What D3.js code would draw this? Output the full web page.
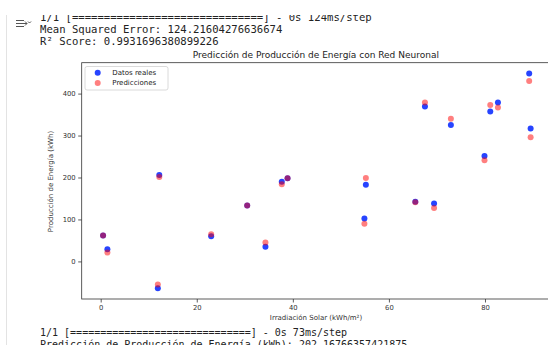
<!DOCTYPE html>
<html>
<head>
<meta charset="utf-8">
<script src="https://cdn.jsdelivr.net/npm/d3@7"></script>
<style>
  html, body { margin: 0; padding: 0; background: #fff; }
  svg { display: block; }
</style>
</head>
<body>
<script>
// data
var irradiacion = [0.5, 1.4, 12.2, 11.9, 23.0, 30.5, 34.3, 37.7, 38.9, 55.2,
                   54.9, 65.5, 69.4, 67.5, 72.9, 79.9, 81.1, 82.7, 89.2, 89.5]
var reales      = [62, 29, 206, -64, 60, 133, 35, 190, 198, 183,
                   102, 142, 138, 369, 325, 251, 357, 379, 448, 317]
var predicciones = [62, 21, 201, -55, 65, 133, 45, 184, 198, 199,
                   90, 141, 127, 379, 340, 241, 373, 367, 430, 296]
var xTicks = [0, 20, 40, 60, 80]
var yTicks = [0, 100, 200, 300, 400]

var consoleTop = [
  '1/1 [==============================] - 0s 124ms/step',
  'Mean Squared Error: 124.21604276636674',
  'R\u00b2 Score: 0.9931696380899226'
]
var consoleBottom = [
  '1/1 [==============================] - 0s 73ms/step',
  'Predicci\u00f3n de Producci\u00f3n de Energ\u00eda (kWh): 202.16766357421875'
]

var W = 548, H = 345
var mono = '"DejaVu Sans Mono", monospace'
var sans = '"DejaVu Sans", sans-serif'

var svg = d3.select('body').append('svg')
  .attr('width', W).attr('height', H)

svg.append('rect').attr('width', W).attr('height', H).attr('fill', '#fff')

// notebook output gutter
svg.append('line')
  .attr('x1', 6.5).attr('x2', 6.5).attr('y1', 15).attr('y2', H)
  .attr('stroke', '#e3e3e3')

var icon = svg.append('g').attr('transform', 'translate(15,19)')
  .attr('stroke', '#555').attr('fill', 'none').attr('stroke-width', 1)
icon.append('path').attr('d', 'M1,1.5H9M1,4.5H12M10,2.5L12,4.5L10,6.5M1,7.5H9')
icon.append('path').attr('d', 'M13,2.5L14.5,4L16,2.5')

// console text, first line is half hidden by the scroll edge
svg.append('clipPath').attr('id', 'topclip')
  .append('rect').attr('x', 0).attr('y', 15).attr('width', W).attr('height', H)

svg.append('g').attr('clip-path', 'url(#topclip)')
  .selectAll('text').data(consoleTop).join('text')
  .attr('x', 40).attr('y', (d, i) => 20.5 + i * 12)
  .attr('font-family', mono).attr('font-size', 10.6)
  .attr('fill', '#222')
  .text(d => d)

svg.append('g')
  .selectAll('text').data(consoleBottom).join('text')
  .attr('x', 40).attr('y', (d, i) => 336 + i * 11.5)
  .attr('font-family', mono).attr('font-size', 10)
  .attr('fill', '#222')
  .text(d => d)

//
// chart
//
var plotLeft = 81.7, plotTop = 62.7, plotBottom = 299, plotRight = 552

function padded(vals) {
  var lo = d3.min(vals), hi = d3.max(vals), p = (hi - lo) * 0.05
  return [lo - p, hi + p]
}

var x = d3.scaleLinear().domain(padded(irradiacion)).range([plotLeft, plotRight])
var y = d3.scaleLinear().domain(padded(reales.concat(predicciones))).range([plotBottom, plotTop])

var chart = svg.append('g')

// spines
chart.append('rect')
  .attr('x', plotLeft).attr('y', plotTop)
  .attr('width', plotRight - plotLeft).attr('height', plotBottom - plotTop)
  .attr('fill', 'none').attr('stroke', '#333').attr('stroke-width', 0.8)

var xAxis = chart.append('g')
  .attr('transform', 'translate(0,' + plotBottom + ')')
  .call(d3.axisBottom(x).tickValues(xTicks).tickSize(3.5).tickPadding(2.5))
var yAxis = chart.append('g')
  .attr('transform', 'translate(' + plotLeft + ',0)')
  .call(d3.axisLeft(y).tickValues(yTicks).tickSize(3.5).tickPadding(2.5))

;[xAxis, yAxis].forEach(function(a) {
  a.select('.domain').remove()
  a.selectAll('line').attr('stroke', '#333').attr('stroke-width', 0.8)
  a.selectAll('text').attr('font-family', sans).attr('font-size', 6.8).attr('fill', '#333')
})

// title and labels
chart.append('text')
  .attr('x', (plotLeft + plotRight) / 2 - 1).attr('y', 57.5)
  .attr('text-anchor', 'middle')
  .attr('font-family', sans).attr('font-size', 9).attr('fill', '#222')
  .text('Predicci\u00f3n de Producci\u00f3n de Energ\u00eda con Red Neuronal')

chart.append('text')
  .attr('x', 316).attr('y', 320)
  .attr('text-anchor', 'middle')
  .attr('font-family', sans).attr('font-size', 7).attr('fill', '#333')
  .text('Irradiaci\u00f3n Solar (kWh/m\u00b2)')

chart.append('text')
  .attr('transform', 'translate(52.5,' + 181.5 + ') rotate(-90)')
  .attr('text-anchor', 'middle')
  .attr('font-family', sans).attr('font-size', 7).attr('fill', '#333')
  .text('Producci\u00f3n de Energ\u00eda (kWh)')

// points: real first, predictions over them
chart.append('g').selectAll('circle').data(irradiacion).join('circle')
  .attr('cx', d => x(d))
  .attr('cy', (d, i) => y(reales[i]))
  .attr('r', 3)
  .attr('fill', '#1030ff').attr('fill-opacity', 0.9)

chart.append('g').selectAll('circle').data(irradiacion).join('circle')
  .attr('cx', d => x(d))
  .attr('cy', (d, i) => y(predicciones[i]))
  .attr('r', 3)
  .attr('fill', '#ff0000').attr('fill-opacity', 0.5)

// legend
var legend = chart.append('g')
legend.append('rect')
  .attr('x', 85).attr('y', 66.5).attr('width', 83).attr('height', 23.5).attr('rx', 2)
  .attr('fill', '#fff').attr('fill-opacity', 0.8)
  .attr('stroke', '#d0d0d0').attr('stroke-width', 0.8)

var entries = [
  { label: 'Datos reales', color: '#1030ff', op: 0.9 },
  { label: 'Predicciones', color: '#ff0000', op: 0.5 }
]
var item = legend.selectAll('g.item').data(entries).join('g')
  .attr('class', 'item')
  .attr('transform', (d, i) => 'translate(0,' + (72.7 + i * 10.3) + ')')
item.append('circle').attr('cx', 97.7).attr('cy', 0).attr('r', 3)
  .attr('fill', d => d.color).attr('fill-opacity', d => d.op)
item.append('text').attr('x', 112.3).attr('y', 2.4)
  .attr('font-family', sans).attr('font-size', 7).attr('fill', '#222')
  .text(d => d.label)
</script>
</body>
</html>
